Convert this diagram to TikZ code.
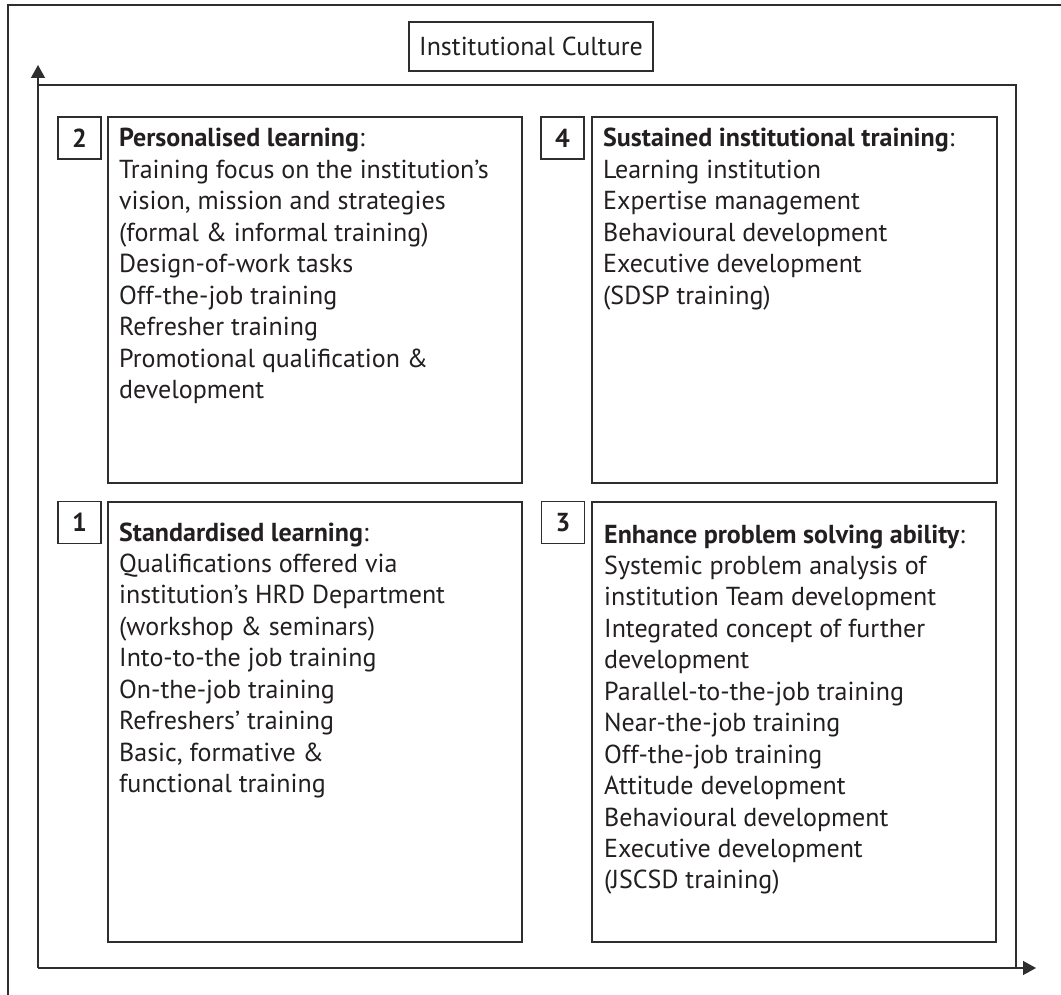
\documentclass[tikz,border=0pt]{standalone}
\usepackage{fontspec}
\setmainfont{PT Sans}
\usetikzlibrary{arrows.meta}
\definecolor{ink}{HTML}{231F20}
\definecolor{rule}{HTML}{2E2E2E}
\newcommand{\boxfont}{\fontsize{26}{31.45}\selectfont}
\begin{document}
\begin{tikzpicture}[x=1pt,y=-1pt,
  line/.style={draw=rule,line width=1.3pt},
  frame/.style={line,rectangle,inner sep=0pt},
  numbox/.style={line,rectangle,inner sep=0pt,minimum width=43pt,minimum height=42pt,
    font=\boxfont\bfseries,text=ink},
  body/.style={anchor=base west,inner sep=0pt,text=ink,font=\boxfont},
  axis/.style={line,-{Triangle[length=13pt,width=14pt]}}]
\useasboundingbox (0,0) rectangle (1061,995);
\fill[white] (0,0) rectangle (1061,995);

% figure border (top and left)
\draw[line] (8,995) -- (8,5) -- (1061,5);

% title
\node[frame,minimum width=244pt,minimum height=49pt,font=\fontsize{26}{31}\selectfont,text=ink]
  (title) at (531,46.5) {Institutional Culture};

% axes and enclosing frame
\coordinate (o) at (38,968);
\coordinate (ytip) at (38,65);
\coordinate (xtip) at (1036,968);
\coordinate (tl) at (38,85);
\coordinate (tr) at (1016,85);
\coordinate (br) at (1016,968);
\draw[line] (tl) -- (tr) -- (br);
\draw[axis] (o) -- (ytip);
\draw[axis] (o) -- (xtip);

% quadrant boxes
\node[frame,minimum width=414pt,minimum height=366pt] (b2) at (315,300) {};
\node[frame,minimum width=405pt,minimum height=366pt] (b4) at (794.5,300) {};
\node[frame,minimum width=414pt,minimum height=440pt] (b1) at (315,722) {};
\node[frame,minimum width=404pt,minimum height=440pt] (b3) at (794,722) {};

% quadrant numbers
\node[numbox] (n2) at (79.5,138) {2};
\node[numbox] (n4) at (562.5,138) {4};
\node[numbox] (n1) at (79.5,522.5) {1};
\node[numbox] (n3) at (563,522.5) {3};

% quadrant texts
\node[body] (t2) at (119,147) {\begin{tabular}[t]{@{}l@{}}
\textbf{Personalised learning}:\\
Training focus on the institution’s\\
vision, mission and strategies\\
(formal \& informal training)\\
Design-of-work tasks\\
Off-the-job training\\
Refresher training\\
Promotional qualification \&\\
development
\end{tabular}};

\node[body] (t4) at (603,147) {\begin{tabular}[t]{@{}l@{}}
\textbf{Sustained institutional training}:\\
Learning institution\\
Expertise management\\
Behavioural development\\
Executive development\\
(SDSP training)
\end{tabular}};

\node[body] (t1) at (119,541) {\begin{tabular}[t]{@{}l@{}}
\textbf{Standardised learning}:\\
Qualifications offered via\\
institution’s HRD Department\\
(workshop \& seminars)\\
Into-to-the job training\\
On-the-job training\\
Refreshers’ training\\
Basic, formative \&\\
functional training
\end{tabular}};

\node[body] (t3) at (604,543) {\begin{tabular}[t]{@{}l@{}}
\textbf{Enhance problem solving ability}:\\
Systemic problem analysis of\\
institution Team development\\
Integrated concept of further\\
development\\
Parallel-to-the-job training\\
Near-the-job training\\
Off-the-job training\\
Attitude development\\
Behavioural development\\
Executive development\\
(JSCSD training)
\end{tabular}};
\end{tikzpicture}
\end{document}
